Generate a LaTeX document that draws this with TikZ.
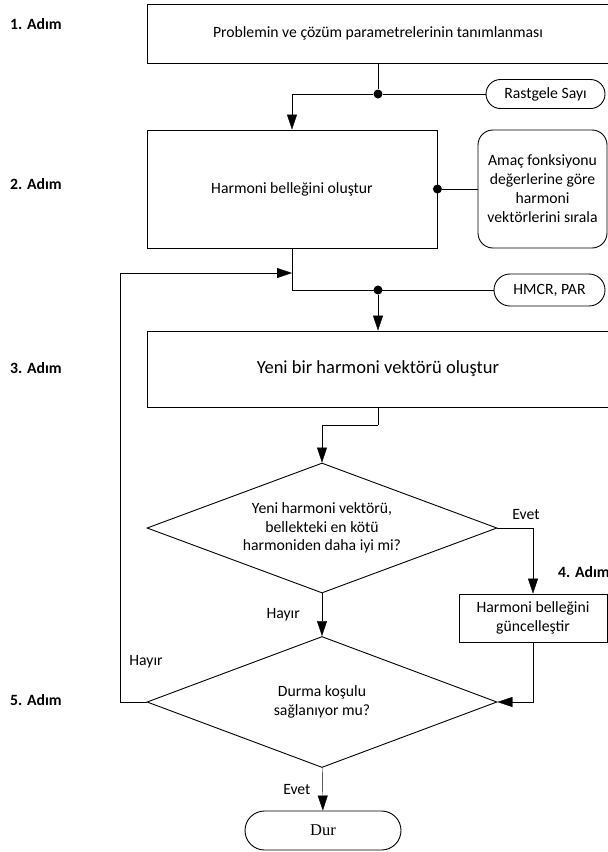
\documentclass[tikz,border=0pt]{standalone}
\usepackage{fontspec}
\setmainfont{Carlito}
\newfontfamily\durfont{Liberation Serif}
\usetikzlibrary{arrows.meta,shapes.geometric,shapes.misc,positioning,calc}
\tikzset{
    -{Triangle[length=15pt,width=10pt]}, line width=1.6pt,
    block/.style = {rectangle, draw, line width=0.9pt, align=center, inner sep=2pt},
    term/.style = {rounded rectangle, draw, line width=0.9pt, inner sep=2pt},
    sortbox/.style = {rectangle, rounded corners=15pt, draw, line width=0.9pt, align=center, inner sep=2pt},
    cond/.style = {diamond, draw, line width=0.9pt, aspect=2.7, align=center, inner sep=0pt},
    point/.style = {circle, fill, inner sep=0pt, minimum size=9pt, node contents={}},
    stage/.style = {font=\fontsize{15.7}{18.5}\selectfont\bfseries, anchor=west, inner sep=0pt},
    lbl/.style = {inner sep=0pt}
}

\begin{document}
\begin{tikzpicture}[x=1pt,y=-1pt,font=\fontsize{15.7}{18.5}\selectfont]
    \useasboundingbox (0,0) rectangle (608,852);
    \clip (0,0) rectangle (608,852);

    % steps
    \node[stage] (s1) at (10,24) {1. Adım};
    \node[stage] (s2) at (10,184) {2. Adım};
    \node[stage] (s3) at (10,368) {3. Adım};
    \node[stage] (s4) at (558,572) {4. Adım};
    \node[stage] (s5) at (10,700) {5. Adım};

    % blocks
    \node[block, minimum width=462pt, minimum height=59pt] (prob) at (378,33.5) {Problemin ve çözüm parametrelerinin tanımlanması};
    \node[term, minimum width=123pt, minimum height=29pt] (rand) at (545.5,94) {Rastgele Sayı};
    \node[block, minimum width=290pt, minimum height=118pt] (harm) at (292,189) {Harmoni belleğini oluştur};
    \node[sortbox, minimum width=129pt, minimum height=118pt, font=\fontsize{15.7}{19}\selectfont] (amac) at (542.5,189) {Amaç fonksiyonu\\değerlerine göre\\harmoni\\vektörlerini sırala};
    \node[term, minimum width=115pt, minimum height=32pt] (hmcr) at (549.5,290) {HMCR, PAR};
    \node[block, minimum width=462pt, minimum height=76pt, font=\fontsize{18.5}{22}\selectfont] (yeni) at (378,369) {Yeni bir harmoni vektörü oluştur};
    \node[cond, minimum width=350pt, minimum height=130pt] (kosul) at (322,528) {Yeni harmoni vektörü,\\bellekteki en kötü\\harmoniden daha iyi mi?};
    \node[block, minimum width=148pt, minimum height=48pt] (guncel) at (533,618) {Harmoni belleğini\\güncelleştir};
    \node[cond, minimum width=350pt, minimum height=131pt] (durma) at (322,702) {Durma koşulu\\sağlanıyor mu?};
    \node[term, minimum width=160pt, minimum height=39pt, font=\durfont\fontsize{16.5}{19}\selectfont] (dur) at (323,830.5) {Dur};

    % junctions
    \node (j1) at (378,94) [point];
    \node (j2) at (harm.east) [point];
    \node (j3) at (378,290) [point];
    \coordinate (back) at (292,273);
    \coordinate (corner) at (120,273);
    \coordinate (bend) at (378,425);

    \draw[-] (prob) -- (j1);
    \draw[-] (rand) -- (j1);
    \draw (j1) -| (harm);
    \draw[-] (j2) -- (amac);
    \draw[-] (harm) |- (hmcr);
    \draw (j3) -- (yeni);
    \draw[-] (yeni) -- (bend);
    \draw (bend) -| (kosul);
    \draw (kosul) -| (guncel) node[lbl, pos=0.4, above=8pt] {Evet};
    \draw (guncel) |- (durma);
    \draw (kosul) -- (durma) node[lbl, midway, left=22pt] {Hayır};
    \draw (durma) -- (dur) node[lbl, midway, left=12pt] {Evet};
    \draw (durma) -| (corner) -- (back);
    \node[lbl] (hayir) at (146,662) {Hayır};
\end{tikzpicture}
\end{document}
